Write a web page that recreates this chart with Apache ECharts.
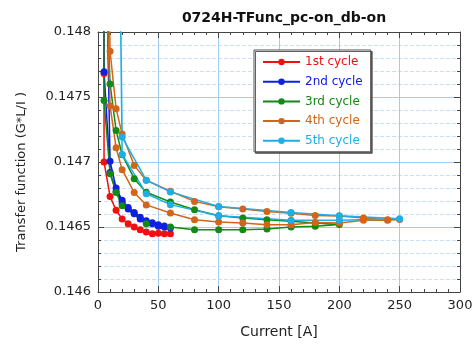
<!DOCTYPE html>
<html><head><meta charset="utf-8">
<script src="https://cdn.jsdelivr.net/npm/echarts@6/dist/echarts.min.js"></script>
<style>html,body{margin:0;padding:0;background:#fff}#c{width:476px;height:345px}</style>
</head><body><div id="c"></div>
<script>
const seriesNames = ['1st cycle', '2nd cycle', '3rd cycle', '4th cycle', '5th cycle'];
const seriesColors = ['#f01010', '#1020e0', '#138a13', '#d2651a', '#1eaee8'];

const c1x = [4.6, 5, 5, 10, 15, 20, 25, 30, 35, 40, 45, 50, 55, 60];
const c1y = [0.1490, 0.14768, 0.14700, 0.146735, 0.146628, 0.146562, 0.146525, 0.14650, 0.146479, 0.146462, 0.146448, 0.146452, 0.146448, 0.146448];

const c2x = [4.5, 5, 10, 15, 20, 25, 30, 35, 40, 45, 50, 55, 60, 55, 50, 45, 40, 35, 30, 25, 20, 15, 10, 6];
const c2y = [0.1490, 0.147695, 0.14692, 0.146774, 0.146685, 0.146638, 0.146602, 0.146562, 0.146535, 0.146525, 0.146505, 0.14650, 0.146492, 0.146508, 0.146518, 0.146532, 0.146548, 0.146575, 0.146612, 0.14665, 0.146705, 0.14680, 0.147005, 0.1490];

const c3x = [4.5, 5, 10, 15, 20, 40, 60, 80, 100, 120, 140, 160, 180, 200, 180, 160, 140, 120, 100, 80, 60, 40, 30, 20, 15, 10, 2];
const c3y = [0.1490, 0.147474, 0.14691, 0.146766, 0.146664, 0.146525, 0.14650, 0.146479, 0.146479, 0.146479, 0.146485, 0.14650, 0.146505, 0.14652, 0.14653, 0.146545, 0.146556, 0.146569, 0.146587, 0.146633, 0.146692, 0.146767, 0.146872, 0.147056, 0.147243, 0.14760, 0.1495];

const c4x = [5, 10, 15, 20, 30, 40, 60, 80, 100, 120, 140, 160, 180, 200, 220, 240, 250, 240, 220, 200, 180, 160, 140, 120, 100, 80, 60, 40, 30, 20, 15, 10, 8];
const c4y = [0.1490, 0.147431, 0.14711, 0.146941, 0.146766, 0.14667, 0.146608, 0.146556, 0.146538, 0.14653, 0.146518, 0.146518, 0.146535, 0.14653, 0.146551, 0.146551, 0.146558, 0.146555, 0.146569, 0.146585, 0.146589, 0.146605, 0.14662, 0.146638, 0.146655, 0.146697, 0.146775, 0.14686, 0.146974, 0.147215, 0.14741, 0.147851, 0.1490];

const c5x = [17, 20, 40, 60, 100, 160, 200, 250, 200, 160, 100, 60, 40, 20, 17];
const c5y = [0.1495, 0.147058, 0.146756, 0.146672, 0.146587, 0.146551, 0.146551, 0.146564, 0.146587, 0.146612, 0.146658, 0.14677, 0.14686, 0.147192, 0.1495];

const xAxisRange = [0, 300, 50];
const yAxisRange = [0.146, 0.148, 0.0005];

const allX = [c1x, c2x, c3x, c4x, c5x];
const allY = [c1y, c2y, c3y, c4y, c5y];

const FONT = 'DejaVu Sans';
const axisCol = '#444';
const gridCol = '#9fcdf2';
const minorGridCol = '#c6e1f7';

const chart = echarts.init(document.getElementById('c'), null, {renderer: 'canvas'});

const series = seriesNames.map((n, i) => ({
  name: n,
  type: 'line',
  data: allX[i].map((x, k) => [x, allY[i][k]]),
  symbol: 'circle',
  symbolSize: 7,
  color: seriesColors[i],
  lineStyle: {width: 1.5, color: seriesColors[i]},
  itemStyle: {color: seriesColors[i]},
  clip: true,
  animation: false,
  emphasis: {disabled: true}
}));

const fmtY = v => String(+(+v).toFixed(4));

chart.setOption({
  animation: false,
  backgroundColor: '#fff',
  title: {
    text: '0724H-TFunc_pc-on_db-on',
    left: 279, top: 6, textAlign: 'center',
    textStyle: {fontFamily: FONT, fontSize: 14, fontWeight: 'bold', color: '#111'}
  },
  grid: {left: 98, right: 16, top: 32, bottom: 53, containLabel: false},
  legend: {
    orient: 'vertical',
    left: 254, top: 50,
    padding: [5, 8, 4, 8],
    itemWidth: 37, itemHeight: 8, itemGap: 5.7,
    borderColor: '#555', borderWidth: 1,
    backgroundColor: '#fff',
    shadowColor: 'rgba(60,60,60,0.8)', shadowOffsetX: 1.5, shadowOffsetY: 1.5, shadowBlur: 0,
    textStyle: {fontFamily: FONT, fontSize: 12, lineHeight: 14},
    data: seriesNames.map((n, i) => ({name: n, textStyle: {color: seriesColors[i]}}))
  },
  xAxis: [{
    type: 'value', position: 'bottom',
    min: xAxisRange[0], max: xAxisRange[1], interval: xAxisRange[2],
    name: 'Current [A]', nameLocation: 'middle', nameGap: 33,
    nameTextStyle: {fontFamily: FONT, fontSize: 14, color: '#222'},
    axisLine: {show: true, onZero: false, lineStyle: {color: axisCol, width: 1}},
    axisTick: {show: true, inside: true, length: 6, lineStyle: {color: axisCol}},
    minorTick: {show: true, splitNumber: 5, length: 3, lineStyle: {color: axisCol}},
    axisLabel: {fontFamily: FONT, fontSize: 13, color: '#222', margin: 7},
    splitLine: {show: true, lineStyle: {color: gridCol, width: 1}},
    minorSplitLine: {show: false}
  }, {
    type: 'value', position: 'top',
    min: xAxisRange[0], max: xAxisRange[1], interval: xAxisRange[2],
    axisLine: {show: true, onZero: false, lineStyle: {color: axisCol, width: 1}},
    axisTick: {show: true, inside: true, length: 6, lineStyle: {color: axisCol}},
    minorTick: {show: true, splitNumber: 5, length: 3, lineStyle: {color: axisCol}},
    axisLabel: {show: false},
    splitLine: {show: false}
  }],
  yAxis: [{
    type: 'value', position: 'left',
    min: yAxisRange[0], max: yAxisRange[1], interval: yAxisRange[2],
    name: 'Transfer function (G*L/I )', nameLocation: 'middle', nameGap: 70, nameRotate: 90,
    nameTextStyle: {fontFamily: FONT, fontSize: 13, color: '#222', padding: [0, 20, 0, 0]},
    axisLine: {show: true, onZero: false, lineStyle: {color: axisCol, width: 1}},
    axisTick: {show: true, inside: true, length: 6, lineStyle: {color: axisCol}},
    minorTick: {show: true, splitNumber: 5, length: 3, lineStyle: {color: axisCol}},
    axisLabel: {fontFamily: FONT, fontSize: 13, color: '#222', margin: 7, formatter: fmtY},
    splitLine: {show: true, lineStyle: {color: gridCol, width: 1}},
    minorSplitLine: {show: true, lineStyle: {color: minorGridCol, width: 1, type: [4, 2]}}
  }, {
    type: 'value', position: 'right',
    min: yAxisRange[0], max: yAxisRange[1], interval: yAxisRange[2],
    axisLine: {show: true, onZero: false, lineStyle: {color: axisCol, width: 1}},
    axisTick: {show: true, inside: true, length: 6, lineStyle: {color: axisCol}},
    minorTick: {show: true, splitNumber: 5, length: 3, lineStyle: {color: axisCol}},
    axisLabel: {show: false},
    splitLine: {show: false}
  }],
  series: series
});
</script>
</body></html>
